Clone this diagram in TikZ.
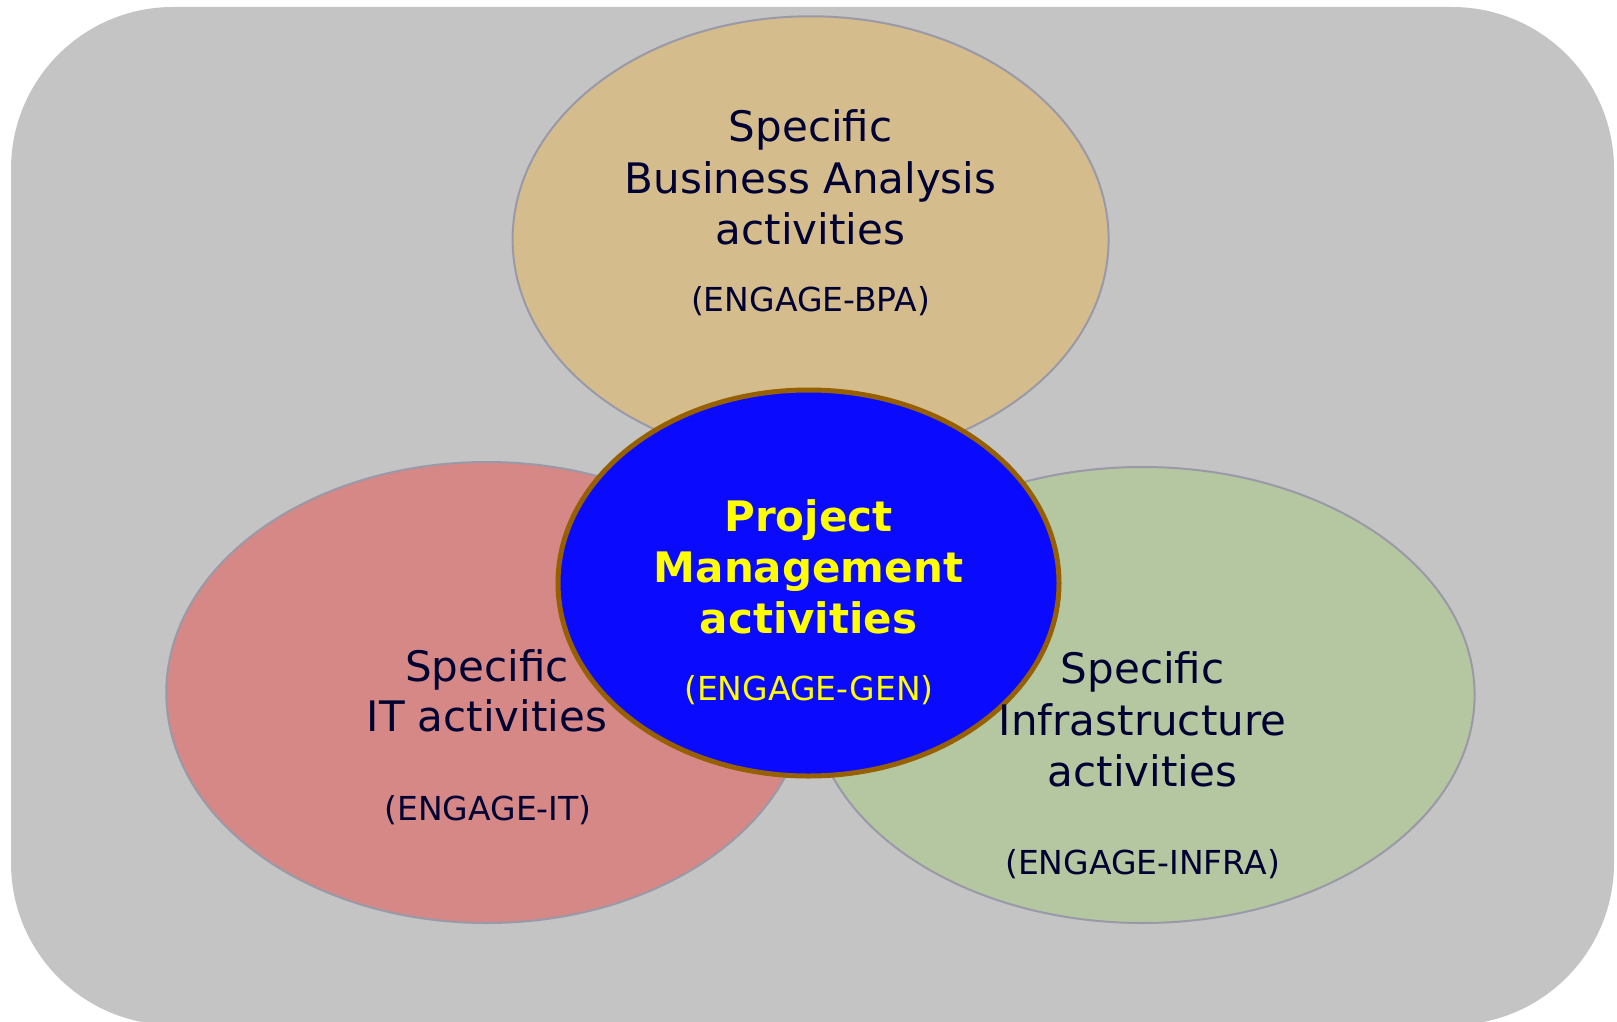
\documentclass[tikz,border=0pt]{standalone}
\usepackage{fontspec}
\setmainfont{DejaVu Sans}
\usetikzlibrary{shapes.geometric}
\definecolor{bggray}{RGB}{196,196,196}
\definecolor{tanfill}{RGB}{213,188,141}
\definecolor{pinkfill}{RGB}{214,136,135}
\definecolor{greenfill}{RGB}{181,199,161}
\definecolor{bluefill}{RGB}{10,10,255}
\definecolor{brownline}{RGB}{150,96,0}
\definecolor{edgegray}{RGB}{154,153,168}
\definecolor{navytext}{RGB}{0,0,51}
\definecolor{yellowtext}{RGB}{255,255,0}
\tikzset{
  bigtext/.style={anchor=base, inner sep=0pt, text=navytext, font=\fontsize{42}{50}\selectfont},
  smalltext/.style={anchor=base, inner sep=0pt, text=navytext, font=\fontsize{33}{40}\selectfont},
  genbig/.style={anchor=base, inner sep=0pt, text=yellowtext, font=\fontsize{42}{50}\selectfont\bfseries},
  gensmall/.style={anchor=base, inner sep=0pt, text=yellowtext, font=\fontsize{33}{40}\selectfont},
  outerellipse/.style={ellipse, draw=edgegray, line width=2pt, inner sep=0pt},
}
\begin{document}
\begin{tikzpicture}[x=1pt,y=-1pt]
\useasboundingbox (0,0) rectangle (1617,1022);
% background
\fill[bggray, rounded corners=162pt] (11,7) rectangle (1614,1025);
% ellipses
\node[outerellipse, fill=tanfill, minimum width=596pt, minimum height=446pt] (bpa) at (810.6,239.3) {};
\node[outerellipse, fill=pinkfill, minimum width=641pt, minimum height=461pt] (it) at (486.8,692.5) {};
\node[outerellipse, fill=greenfill, minimum width=664pt, minimum height=456pt] (infra) at (1142.6,695) {};
\node[ellipse, draw=brownline, fill=bluefill, line width=5pt, inner sep=0pt, minimum width=501pt, minimum height=386pt] (gen) at (808.5,583) {};
% BPA text
\node[bigtext] (bpa1) at (810.6,142) {Specific};
\node[bigtext] (bpa2) at (810.6,193.4) {Business Analysis};
\node[bigtext] (bpa3) at (810.6,244) {activities};
\node[smalltext] (bpa4) at (810.6,311) {(ENGAGE-BPA)};
% IT text
\node[bigtext] (it1) at (487,681) {Specific};
\node[bigtext] (it2) at (487,731.7) {IT activities};
\node[smalltext] (it3) at (488,820.5) {(ENGAGE-IT)};
% INFRA text
\node[bigtext] (inf1) at (1142.6,683) {Specific};
\node[bigtext] (inf2) at (1142.6,735) {Infrastructure};
\node[bigtext] (inf3) at (1142.6,786) {activities};
\node[smalltext] (inf4) at (1142.6,874) {(ENGAGE-INFRA)};
% GEN text
\node[genbig] (gen1) at (808.5,531) {Project};
\node[genbig] (gen2) at (808.5,582) {Management};
\node[genbig] (gen3) at (808.5,633.5) {activities};
\node[gensmall] (gen4) at (809,700) {(ENGAGE-GEN)};
\end{tikzpicture}
\end{document}
